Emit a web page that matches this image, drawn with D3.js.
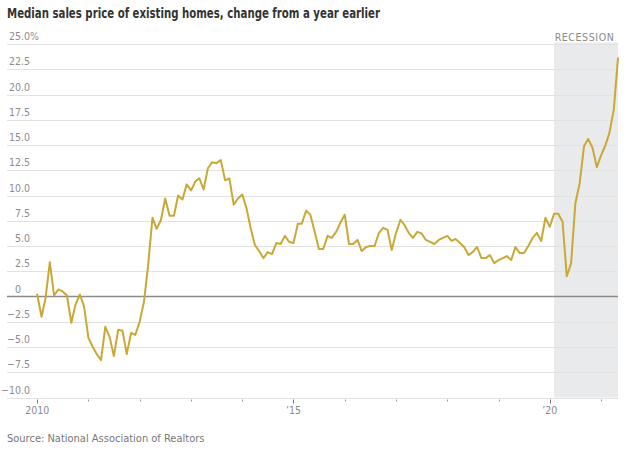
<!DOCTYPE html>
<html>
<head>
<meta charset="utf-8">
<script src="https://cdn.jsdelivr.net/npm/d3@7"></script>
<style>
  html, body { margin: 0; padding: 0; background: #fff; }
  svg { display: block; }
  .narrow { font-family: "Liberation Sans Narrow", "DejaVu Sans Condensed", "Roboto", sans-serif; }
</style>
</head>
<body>
<svg id="chart" width="630" height="461"></svg>
<script>
// ---- Data ----
const titleText = "Median sales price of existing homes, change from a year earlier";
const sourceText = "Source: National Association of Realtors";
const firstMonth = "2010-01";
const lastMonth = "2021-05";
// Year-over-year % change of median existing-home sales price, monthly Jan 2010 - May 2021
const values = [
  0.2, -2.0, -0.2, 3.4, 0.1, 0.7, 0.5, 0.1, -2.6, -0.8,
  0.2, -1.0, -4.1, -5.0, -5.7, -6.3, -3.0, -4.0, -5.9, -3.3,
  -3.4, -5.7, -3.6, -3.8, -2.5, -0.5, 3.0, 7.8, 6.7, 7.6,
  9.7, 8.0, 8.0, 10.0, 9.6, 11.1, 10.5, 11.4, 11.7, 10.6,
  12.7, 13.3, 13.2, 13.5, 11.5, 11.7, 9.1, 9.7, 10.1, 8.7,
  6.8, 5.1, 4.5, 3.8, 4.4, 4.2, 5.3, 5.2, 6.0, 5.4,
  5.3, 7.2, 7.2, 8.5, 8.1, 6.4, 4.7, 4.7, 6.0, 5.8,
  6.4, 7.3, 8.1, 5.2, 5.2, 5.6, 4.5, 4.9, 5.0, 5.0,
  6.3, 6.8, 6.6, 4.6, 6.3, 7.6, 7.1, 6.3, 5.8, 6.4,
  6.25, 5.6, 5.4, 5.2, 5.6, 5.8, 6.0, 5.5, 5.7, 5.3,
  4.9, 4.1, 4.4, 4.9, 3.8, 3.8, 4.1, 3.3, 3.6, 3.8,
  4.0, 3.6, 4.9, 4.3, 4.3, 5.0, 5.8, 6.3, 5.5, 7.8,
  6.9, 8.2, 8.2, 7.4, 2.0, 3.3, 9.2, 11.2, 14.9, 15.6,
  14.7, 12.8, 14.0, 15.0, 16.2, 18.5, 23.6
];
const yTicks = [-10, -7.5, -5, -2.5, 0, 2.5, 5, 7.5, 10, 12.5, 15, 17.5, 20, 22.5, 25];
const xTickYears = [2010, 2011, 2012, 2013, 2014, 2015, 2016, 2017, 2018, 2019, 2020, 2021];
const xLabelYears = [2010, 2015, 2020];
const recessionStart = "2020-02";
const recessionLabel = "RECESSION";

// ---- Setup ----
const parseMonth = d3.timeParse("%Y-%m");
const dates = d3.timeMonth.range(parseMonth(firstMonth), d3.timeMonth.offset(parseMonth(lastMonth), 1));
const series = dates.map((d, i) => ({ date: d, value: values[i] }));

const svg = d3.select("#chart");
const gridLeft = 7;
const x = d3.scaleTime().domain([parseMonth(firstMonth), parseMonth(lastMonth)]).range([37.2, 618]);
const y = d3.scaleLinear().domain([-10, 25]).range([397.5, 44]);
const plotRight = x.range()[1];

// Recession shading
const rx = x(parseMonth(recessionStart));
svg.append("rect")
  .attr("x", rx).attr("y", y(25) - 1.5)
  .attr("width", plotRight - rx).attr("height", y(-10) - y(25) + 1.5)
  .attr("fill", "#e9eaec");

svg.append("text").attr("class", "narrow")
  .attr("x", rx + 0.5).attr("y", 41)
  .attr("font-size", 10.5).attr("letter-spacing", 0.6)
  .attr("fill", "#8a8a8a")
  .text(recessionLabel);

// Gridlines
svg.append("g").selectAll("line").data(yTicks.filter(v => v !== 0)).join("line")
  .attr("x1", gridLeft).attr("x2", plotRight)
  .attr("y1", d => Math.round(y(d)) + 0.5).attr("y2", d => Math.round(y(d)) + 0.5)
  .attr("stroke", "#e2e2e2").attr("stroke-width", 1);

// Y labels
const fmt = d3.format(".1f");
const yLab = svg.append("g").attr("class", "narrow").attr("font-size", 10.5).attr("fill", "#8c8c8c");
const labelRight = 30;
const probe = yLab.append("text").text(".0");
const decW = probe.node().getComputedTextLength();
probe.remove();
yTicks.forEach(v => {
  const txt = v === 0 ? "0" : fmt(v);
  yLab.append("text")
    .attr("x", v === 0 ? labelRight - decW : labelRight)
    .attr("y", y(v) - 4)
    .attr("text-anchor", "end")
    .text(txt);
  if (v === 25) {
    yLab.append("text").attr("x", labelRight).attr("y", y(v) - 4).text("%");
  }
});

// Zero line
svg.append("line")
  .attr("x1", gridLeft).attr("x2", plotRight)
  .attr("y1", y(0)).attr("y2", y(0))
  .attr("stroke", "#8a8a8a").attr("stroke-width", 1.6);

// X ticks
const xAxisY = Math.round(y(-10)) + 0.5;
const tg = svg.append("g");
xTickYears.forEach(yr => {
  const major = xLabelYears.includes(yr);
  const xx = Math.round(x(new Date(yr, 0, 1))) + 0.5;
  tg.append("line")
    .attr("x1", xx).attr("x2", xx)
    .attr("y1", xAxisY + 1).attr("y2", xAxisY + (major ? 5 : 3))
    .attr("stroke", major ? "#777" : "#999").attr("stroke-width", 1);
});
const xl = svg.append("g").attr("class", "narrow").attr("font-size", 10.5).attr("fill", "#8c8c8c");
xLabelYears.forEach(yr => {
  xl.append("text")
    .attr("x", x(new Date(yr, 0, 1)))
    .attr("y", 414)
    .attr("text-anchor", "middle")
    .text(yr === 2010 ? String(yr) : "\u2019" + String(yr).slice(2));
});

// Line
const line = d3.line().x(d => x(d.date)).y(d => y(d.value));
svg.append("path").datum(series)
  .attr("d", line)
  .attr("fill", "none")
  .attr("stroke", "#c9a836")
  .attr("stroke-width", 2)
  .attr("stroke-linejoin", "round")
  .attr("stroke-linecap", "round");

// Title (fit to the reference's narrow-font width)
const title = svg.append("text").attr("class", "narrow")
  .attr("x", 7).attr("y", 18)
  .attr("font-size", 14).attr("font-weight", "bold")
  .attr("fill", "#333")
  .text(titleText);
const tW = title.node().getComputedTextLength();
if (tW > 373) title.attr("textLength", 373).attr("lengthAdjust", "spacingAndGlyphs");

// Source
svg.append("text").attr("class", "narrow")
  .attr("x", 7).attr("y", 442)
  .attr("font-size", 11)
  .attr("fill", "#777")
  .text(sourceText);
</script>
</body>
</html>
